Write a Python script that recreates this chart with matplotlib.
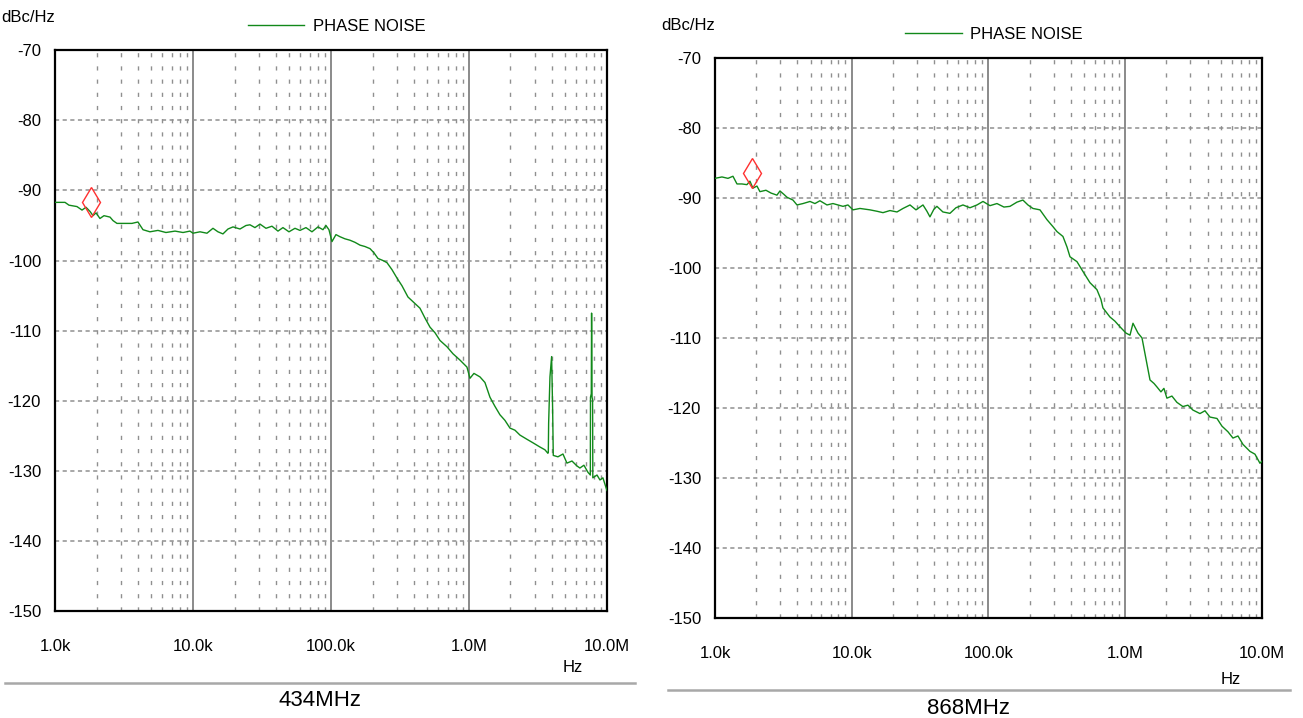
import numpy as np
import matplotlib
matplotlib.use("Agg")
import matplotlib.pyplot as plt
from matplotlib.lines import Line2D
from matplotlib.ticker import FixedLocator, NullFormatter

# 434 MHz phase noise (Hz, dBc/Hz)
f_434 = [1000, 1182, 1263, 1443, 1570, 1678, 1795, 1886, 1983, 2118, 2265, 2504,
         2633, 2812, 3214, 3612, 3992, 4342, 4877, 5573, 6369, 7411, 8471, 9508,
         10000, 11244, 12630, 13960, 15170, 16490, 17940, 19500, 21920, 24220,
         25880, 28130, 30590, 33810, 37360, 41300, 44880, 49620, 54850, 59620,
         65900, 72840, 80520, 87520, 92000, 96700, 101700, 108700, 116200,
         126300, 137300, 149300, 162300, 176400, 191800, 205000, 219100, 238200,
         254600, 276800, 300900, 327100, 361400, 399500, 441600, 480000, 521900,
         567400, 616800, 693100, 766100, 860900, 967400, 1017000, 1087000,
         1202000, 1306000, 1420000, 1543000, 1677000, 1823000, 1982000, 2154000,
         2342000, 2632000, 2909000, 3268000, 3553000, 3735000, 3760000, 3780000,
         3864000, 3973000, 4042000, 4084000, 4415000, 4800000, 5130000, 5580000,
         6060000, 6370000, 6810000, 7280000, 7580000, 7600000, 7700000, 7740000,
         7800000, 7870000, 7900000, 8470000, 8900000, 9350000, 10000000]
pn_434 = [-91.7, -91.7, -92.1, -92.3, -92.8, -92.4, -93.0, -93.6, -93.2, -94.0,
          -93.6, -93.8, -94.3, -94.7, -94.7, -94.7, -94.5, -95.6, -95.9, -95.7,
          -96.0, -95.8, -96.0, -95.8, -96.1, -95.9, -96.1, -95.4, -95.9, -96.2,
          -95.5, -95.2, -95.5, -95.0, -94.9, -95.3, -94.8, -95.4, -95.1, -95.8,
          -95.3, -95.9, -95.4, -95.7, -95.3, -95.9, -95.2, -95.6, -95.0, -95.6,
          -97.3, -96.3, -96.6, -96.9, -97.1, -97.4, -97.8, -98.0, -98.3, -98.9,
          -99.7, -100.0, -100.3, -101.3, -102.5, -103.6, -105.2, -106.0, -106.8,
          -108.2, -109.5, -110.3, -111.4, -112.3, -113.3, -114.2, -115.2, -116.8,
          -116.1, -116.6, -117.4, -119.5, -120.8, -122.0, -122.8, -123.9, -124.2,
          -124.9, -125.5, -126.0, -126.6, -127.0, -127.5, -127.3, -123.2, -116.6,
          -113.7, -121.4, -127.8, -128.0, -127.6, -128.9, -128.6, -129.3, -129.6,
          -129.2, -130.2, -130.6, -119.5, -119.0, -107.5, -119.5, -119.8, -131.0,
          -130.6, -131.3, -131.0, -132.8]

# 868 MHz phase noise (Hz, dBc/Hz)
f_868 = [1000, 1125, 1245, 1354, 1449, 1575, 1713, 1802, 1896, 2028, 2133, 2360,
         2569, 2840, 2987, 3197, 3363, 3718, 3980, 4403, 4957, 5385, 5856, 6594,
         7295, 8630, 9390, 10210, 11490, 13600, 15300, 16930, 19050, 21440, 23720,
         26690, 29510, 33210, 35490, 37340, 39930, 41980, 46440, 52270, 57840,
         65100, 73240, 82400, 91200, 102600, 115400, 129800, 143600, 161500,
         178600, 194400, 211400, 238100, 267800, 296300, 316800, 350500, 375200,
         394600, 443900, 491000, 552300, 621200, 664600, 687200, 773100, 841300,
         915400, 1013000, 1084000, 1140000, 1240000, 1327000, 1419000, 1518000,
         1624000, 1707000, 1825000, 1919000, 2018000, 2196000, 2389000, 2642000,
         2875000, 3128000, 3521000, 3830000, 4168000, 4689000, 5101000, 5641000,
         6137000, 6676000, 7263000, 8171000, 8890000, 9670000, 10000000]
pn_868 = [-87.2, -87.0, -87.2, -86.9, -88.0, -88.0, -88.1, -87.6, -88.6, -88.3,
          -89.1, -88.9, -89.3, -89.6, -89.0, -89.5, -89.9, -90.3, -91.0, -90.8,
          -90.5, -90.8, -90.4, -91.0, -90.8, -91.2, -91.0, -91.7, -91.5, -91.7,
          -91.9, -92.1, -91.8, -92.0, -91.5, -91.0, -91.7, -91.0, -91.9, -92.7,
          -91.6, -91.2, -92.0, -92.2, -91.4, -91.0, -91.4, -91.0, -90.5, -91.1,
          -90.8, -91.3, -91.2, -90.6, -90.3, -91.0, -91.5, -91.7, -93.1, -94.1,
          -94.8, -95.5, -97.0, -98.4, -99.1, -100.5, -102.1, -103.1, -104.5,
          -105.7, -107.0, -107.6, -108.4, -109.3, -109.6, -107.9, -109.3, -110.0,
          -113.0, -116.0, -116.5, -117.0, -117.7, -117.2, -118.6, -118.3, -119.2,
          -119.8, -119.6, -120.3, -120.8, -120.4, -121.3, -121.5, -122.6, -123.4,
          -124.3, -124.0, -125.2, -126.2, -126.6, -127.9, -127.6]

# marker points
mk_434 = (1815, -91.7)
mk_868 = (1874, -86.5)

x_ticks = [1e3, 1e4, 1e5, 1e6, 1e7]
x_labels = ['1.0k', '10.0k', '100.0k', '1.0M', '10.0M']
y_ticks = list(range(-150, -69, 10))

narrow = ['Liberation Sans Narrow', 'Liberation Sans', 'DejaVu Sans']
regular = ['Liberation Sans', 'DejaVu Sans']
plt.rcParams['lines.scale_dashes'] = False
plt.rcParams['axes.unicode_minus'] = False

fig = plt.figure(figsize=(13.03, 7.18), dpi=100)
fig.patch.set_facecolor('white')


def panel(rect, f, pn, mk):
    ax = fig.add_axes(rect)
    ax.set_xscale('log')
    ax.set_xlim(1e3, 1e7)
    ax.set_ylim(-150, -70)
    # grid
    minors = [m * 10 ** d for d in range(3, 7) for m in range(2, 10)]
    for x in minors:
        ax.axvline(x, color='#8f8f8f', lw=1.0, ls=(0, (3.0, 6.5)), zorder=1)
    for x in x_ticks[1:-1]:
        ax.axvline(x, color='#8a8a8a', lw=1.4, zorder=1)
    for y in y_ticks[1:-1]:
        ax.axhline(y, color='#8f8f8f', lw=1.1, ls=(0, (3.0, 2.5)), zorder=1)
    ax.plot(f, pn, color='#11891a', lw=1.0, label='PHASE NOISE', zorder=3)
    ax.plot([mk[0]], [mk[1]], marker='d', ms=15, mfc='none', mec='#ff3030',
            mew=1.0, zorder=4, clip_on=False)
    ax.xaxis.set_major_locator(FixedLocator(x_ticks))
    ax.xaxis.set_minor_formatter(NullFormatter())
    ax.set_xticks(x_ticks)
    ax.set_xticklabels(x_labels)
    ax.set_yticks(y_ticks)
    ax.tick_params(axis='both', which='both', length=0, labelsize=12)
    ax.tick_params(axis='x', pad=20)
    ax.tick_params(axis='y', pad=10)
    for lab in ax.get_xticklabels() + ax.get_yticklabels():
        lab.set_family(narrow)
    for s in ax.spines.values():
        s.set_color('black')
        s.set_linewidth(1.6)
    ax.legend(loc='center', bbox_to_anchor=(0.51, 1.042), frameon=False,
              handlelength=3.4, handletextpad=0.5, borderpad=0,
              prop={'family': narrow, 'size': 12})
    return ax


axl = panel([0.0422, 0.149, 0.4236, 0.781], f_434, pn_434, mk_434)
axr = panel([0.5487, 0.1393, 0.4198, 0.780], f_868, pn_868, mk_868)

fig.text(28 / 1303, 1 - 18 / 718, 'dBc/Hz', family=narrow, fontsize=12, ha='center', va='center')
fig.text(688 / 1303, 1 - 25 / 718, 'dBc/Hz', family=narrow, fontsize=12, ha='center', va='center')
fig.text(573 / 1303, 1 - 668 / 718, 'Hz', family=narrow, fontsize=12, ha='center', va='center')
fig.text(1231 / 1303, 1 - 680 / 718, 'Hz', family=narrow, fontsize=12, ha='center', va='center')

fig.add_artist(Line2D([5 / 1303, 635 / 1303], [1 - 683 / 718] * 2, color='#a8a8a8', lw=1.8))
fig.add_artist(Line2D([668 / 1303, 1290 / 1303], [1 - 690 / 718] * 2, color='#a8a8a8', lw=1.8))

fig.text(320 / 1303, 1 - 700 / 718, '434MHz', family=regular, fontsize=16, ha='center', va='center')
fig.text(968 / 1303, 1 - 708 / 718, '868MHz', family=regular, fontsize=16, ha='center', va='center')

fig.savefig('out.png', dpi=100)
